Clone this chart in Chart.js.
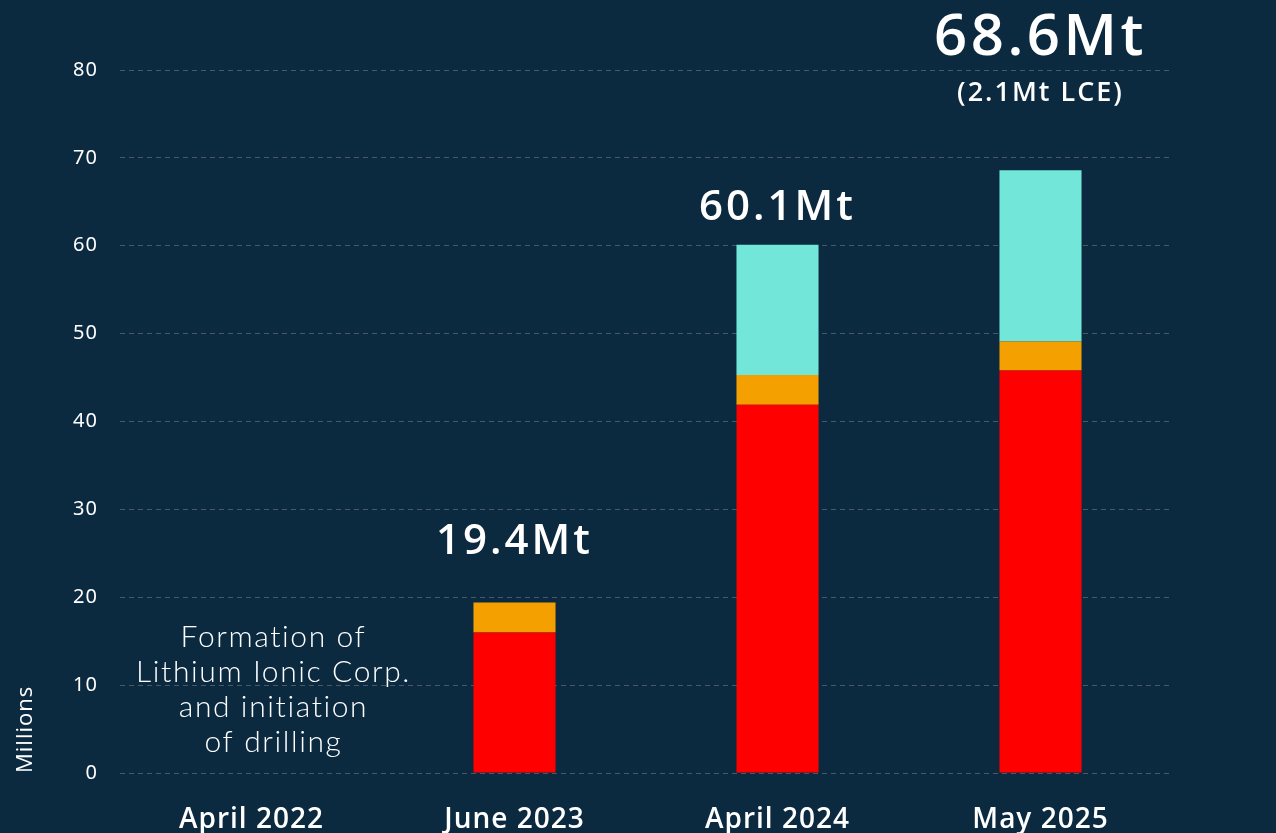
<!DOCTYPE html>
<html>
<head>
<meta charset="utf-8">
<script src="https://cdn.jsdelivr.net/npm/chart.js@4.4.1/dist/chart.umd.min.js"></script>
<style>
  html, body { margin: 0; padding: 0; background: #0b2a40; }
  #wrap { width: 1276px; height: 833px; }
</style>
</head>
<body>
<div id="wrap"><canvas id="resource-chart" width="1276" height="833"></canvas></div>
<script>
// Chart data
const categories = ['April 2022', 'June 2023', 'April 2024', 'May 2025'];
const redValues = [null, 16.0, 41.9, 45.8];
const orangeValues = [null, 3.4, 3.4, 3.3];
const tealValues = [null, 0, 14.8, 19.5];
const totalLabels = ['', '19.4Mt', '60.1Mt', '68.6Mt'];
const lceLabels = ['', '', '', '(2.1Mt LCE)'];
const noteLines = ['Formation of', 'Lithium Ionic Corp.', 'and initiation', 'of drilling'];
const yTicks = [0, 10, 20, 30, 40, 50, 60, 70, 80];

const WHITE = '#ffffff';
const GRID = '#4a5966';

// wider spacing for axis text (the original font is a wide geometric sans)
const spacingPlugin = {
    id: 'spacingPlugin',
    beforeDraw(chart) { chart.ctx.letterSpacing = '1px'; },
    beforeDatasetsDraw(chart) { chart.ctx.letterSpacing = '0px'; }
};

// Draws the totals above the bars and the note in the empty first column
const labelsPlugin = {
    id: 'labelsPlugin',
    afterDatasetsDraw(chart) {
        const ctx = chart.ctx;
        const x = chart.scales.x;
        const topMeta = chart.getDatasetMeta(chart.data.datasets.length - 1);
        // pixel gap between bar top and label centre, font size and spacing per column
        const gaps = [0, 60, 37, 132];
        const sizes = [0, 42, 42, 58];
        const spacing = [0, 3, 3, 3.5];
        ctx.save();
        ctx.fillStyle = WHITE;
        ctx.textAlign = 'center';
        ctx.textBaseline = 'middle';
        topMeta.data.forEach((bar, i) => {
            if (!totalLabels[i]) return;
            const y = bar.y - gaps[i];
            ctx.letterSpacing = spacing[i] + 'px';
            ctx.font = '600 ' + sizes[i] + 'px "Open Sans", sans-serif';
            ctx.fillText(totalLabels[i], bar.x, y);
            if (lceLabels[i]) {
                ctx.letterSpacing = '2px';
                ctx.font = '600 27px "Open Sans", sans-serif';
                ctx.fillText(lceLabels[i], bar.x, y + 55);
            }
        });

        // note text for April 2022
        ctx.letterSpacing = '1.6px';
        ctx.font = '300 30px Lato, sans-serif';
        const cx = x.getPixelForValue(0) + 22;
        noteLines.forEach((line, k) => {
            ctx.fillText(line, cx, 637 + k * 35);
        });
        ctx.restore();
    }
};

const ctx = document.getElementById('resource-chart').getContext('2d');
const chart = new Chart(ctx, {
    type: 'bar',
    data: {
        labels: categories,
        datasets: [
            { label: 'Red', data: redValues, backgroundColor: '#ff0000' },
            { label: 'Orange', data: orangeValues, backgroundColor: '#f4a000' },
            { label: 'Teal', data: tealValues, backgroundColor: '#73e6da' }
        ]
    },
    options: {
        responsive: false,
        animation: false,
        layout: { padding: { top: 70, right: 104, bottom: 0, left: 0 } },
        datasets: {
            bar: { categoryPercentage: 1, barPercentage: 0.312, borderWidth: 0 }
        },
        plugins: {
            legend: { display: false },
            tooltip: { enabled: false }
        },
        scales: {
            x: {
                stacked: true,
                grid: { display: false, drawTicks: false },
                border: { display: false },
                ticks: {
                    color: WHITE,
                    padding: 30,
                    font: { family: '"Open Sans", sans-serif', size: 28, weight: '600' }
                },
                afterFit(scale) { scale.height = 60; }
            },
            y: {
                stacked: true,
                min: 0,
                max: 80,
                afterBuildTicks(scale) {
                    scale.ticks = yTicks.map(v => ({ value: v }));
                },
                grid: {
                    color: GRID,
                    lineWidth: 1,
                    drawTicks: false
                },
                border: { display: false, dash: [5, 4] },
                ticks: {
                    color: WHITE,
                    padding: 22,
                    font: { family: '"Noto Sans", sans-serif', size: 20 }
                },
                title: {
                    display: true,
                    text: 'Millions',
                    align: 'start',
                    color: WHITE,
                    padding: { top: 13, bottom: 0 },
                    font: { family: '"Open Sans", sans-serif', size: 22 }
                },
                afterFit(scale) { scale.width = 120; }
            }
        }
    },
    plugins: [spacingPlugin, labelsPlugin]
});
</script>
</body>
</html>
